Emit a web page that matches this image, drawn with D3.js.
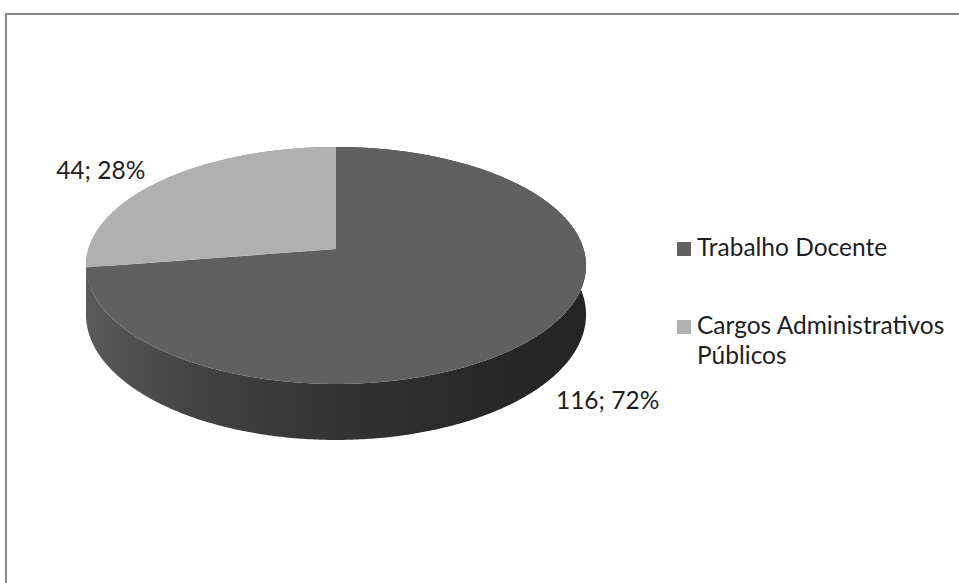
<!DOCTYPE html>
<html>
<head>
<meta charset="utf-8">
<script src="https://cdn.jsdelivr.net/npm/d3@7"></script>
<style>
  html, body { margin: 0; padding: 0; background: #ffffff; }
  svg { display: block; }
  text { font-family: Lato, "Noto Sans", sans-serif; fill: #1e1e1e; }
</style>
</head>
<body>
<svg id="chart" width="959" height="583"></svg>
<script>
// Distribution of activities
const categories = ["Trabalho Docente", "Cargos Administrativos Públicos"];
const values = [116, 44];
const percents = [72, 28];
const topColors = ["#606060", "#b0b0b0"];
const sideColors = ["url(#sideShade)", "#8c8c8c"];

const W = 959, H = 583;
const svg = d3.select("#chart");

// Chart-area frame (runs off the right and bottom edges)
svg.append("rect")
  .attr("x", 6).attr("y", 14)
  .attr("width", W + 10).attr("height", H + 10)
  .attr("fill", "#ffffff")
  .attr("stroke", "#878787").attr("stroke-width", 2);

// Horizontal shading for the visible rim of the pie
const defs = svg.append("defs");
const grad = defs.append("linearGradient")
  .attr("id", "sideShade")
  .attr("gradientUnits", "userSpaceOnUse")
  .attr("x1", 86).attr("y1", 0).attr("x2", 586).attr("y2", 0);
[[0, "#5a5a5a"], [0.2, "#444444"], [0.5, "#333333"], [0.8, "#282828"], [1, "#242424"]]
  .forEach(([o, c]) => grad.append("stop").attr("offset", o).attr("stop-color", c));

// Perspective-tilted disc: angle measured clockwise from 12 o'clock
const cx = 336, cy = 249;      // projected centre of the top face
const rxB = 247.6, ryA = 116.2; // horizontal / vertical radii
const k = -0.139;              // perspective factor (near side is larger)
const depth = 48.2;            // thickness of the disc

function project(theta, r, h) {
  const u = r * Math.sin(theta), v = -r * Math.cos(theta);
  const s = 1 + k * v;
  return [cx + rxB * u / s, cy + (ryA * v + h) / s];
}

const pie = d3.pie().sort(null).startAngle(0).endAngle(2 * Math.PI);
const arcs = pie(values);

function arcPoints(a0, a1, h) {
  const n = Math.max(2, Math.ceil(Math.abs(a1 - a0) / 0.01));
  return d3.range(n + 1).map(i => project(a0 + (a1 - a0) * i / n, 1, h));
}

// Rim of each slice: band between the top edge and the bottom edge
const line = d3.line();
const sides = svg.append("g");
arcs.slice().reverse().forEach((d) => {
  const top = arcPoints(d.startAngle, d.endAngle, 0);
  const bottom = arcPoints(d.endAngle, d.startAngle, depth);
  sides.append("path")
    .attr("d", line(top.concat(bottom)) + "Z")
    .attr("fill", sideColors[d.index]);
});

// Top faces
const tops = svg.append("g");
arcs.forEach((d) => {
  const pts = [project(0, 0, 0)].concat(arcPoints(d.startAngle, d.endAngle, 0));
  tops.append("path")
    .attr("d", line(pts) + "Z")
    .attr("fill", topColors[d.index]);
});

// Data labels "value; percent"
const labelSize = 24.5;
arcs.forEach((d) => {
  const mid = (d.startAngle + d.endAngle) / 2;
  const front = -Math.cos(mid) > 0;
  const [ex, ey] = project(mid, 1, front ? depth : 0);
  svg.append("text")
    .attr("x", front ? ex + 13 : ex - 18)
    .attr("y", front ? ey + 24 : ey - 1)
    .attr("text-anchor", front ? "start" : "end")
    .attr("font-size", labelSize)
    .text(`${values[d.index]}; ${percents[d.index]}%`);
});

// Legend
const legend = svg.append("g").attr("transform", "translate(677,242)");
const legendLines = [["Trabalho Docente"], ["Cargos Administrativos", "Públicos"]];
const legendY = [0, 78];
categories.forEach((c, i) => {
  const g = legend.append("g").attr("transform", `translate(0,${legendY[i]})`);
  g.append("rect").attr("x", 0).attr("y", 0).attr("width", 14).attr("height", 14)
    .attr("fill", topColors[i]);
  const t = g.append("text").attr("x", 20).attr("y", 14).attr("font-size", labelSize);
  legendLines[i].forEach((ln, j) => {
    t.append("tspan").attr("x", 20).attr("dy", j === 0 ? 0 : 30).text(ln);
  });
});
</script>
</body>
</html>
